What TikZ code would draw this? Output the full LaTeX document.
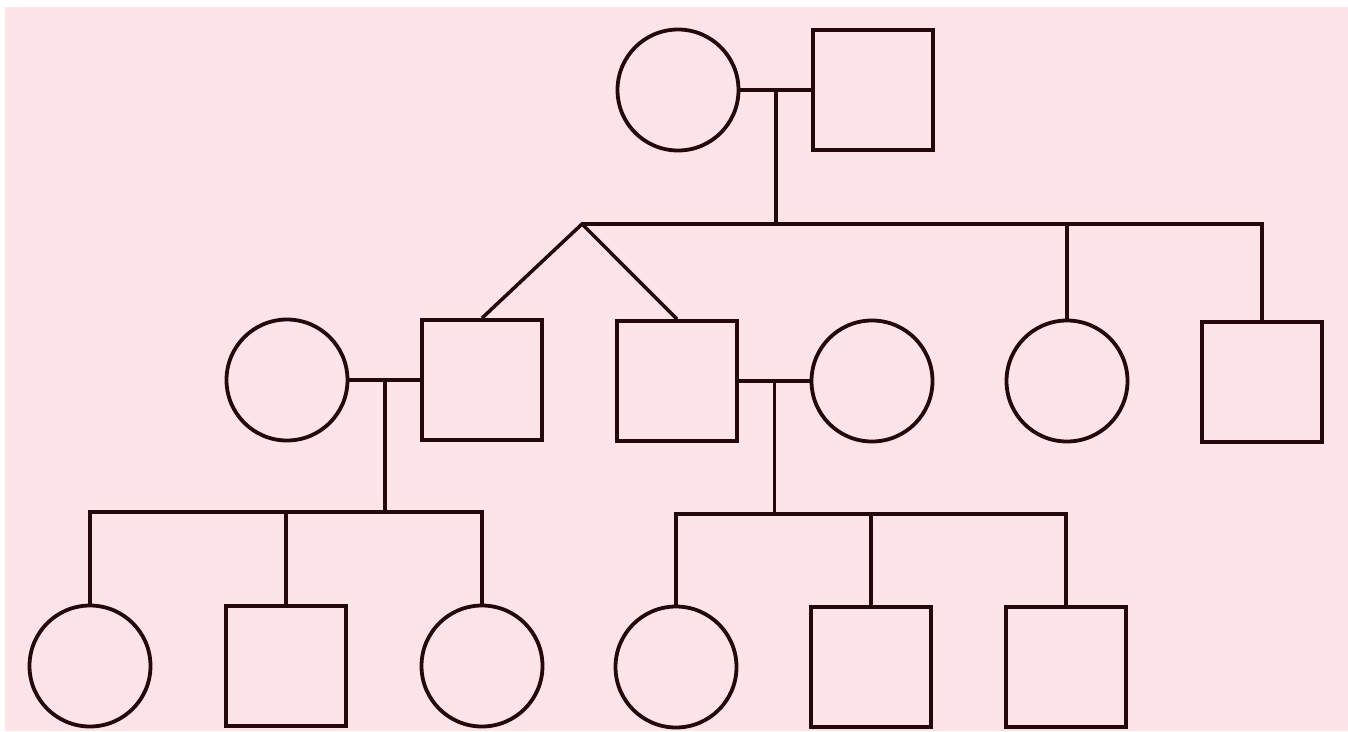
\documentclass[tikz,border=0pt]{standalone}
\usetikzlibrary{calc}
\definecolor{bgpink}{RGB}{253,228,232}
\definecolor{ink}{RGB}{36,8,12}

\begin{document}
\begin{tikzpicture}[x=1pt, y=-1pt, line width=3.6pt, line join=miter,
  female/.style={circle, draw=ink, line width=3.8pt, minimum size=121pt, inner sep=0pt},
  male/.style={rectangle, draw=ink, line width=3.8pt, minimum size=120pt, inner sep=0pt},
  link/.style={draw=ink, line width=3.5pt}]

  %% ════ 底色 ════
  \fill[white] (0,0) rectangle (1348,731);
  \fill[bgpink] (5,7) rectangle (1348,731);

  %% ════ 第一代 ════
  \node[female] (gma) at (678,90) {};
  \node[male]   (gpa) at (873,90) {};

  %% ════ 第二代 ════
  \node[female] (wifeA) at (287,380) {};
  \node[male]   (sonA)  at (482,380) {};
  \node[male]   (sonB)  at (677,381) {};
  \node[female] (wifeB) at (872,381) {};
  \node[female] (dau)   at (1067,381) {};
  \node[male]   (son)   at (1262,382) {};

  %% ════ 第三代 ════
  \node[female] (kidA1) at (90,666) {};
  \node[male]   (kidA2) at (286,666) {};
  \node[female] (kidA3) at (482,666) {};
  \node[female] (kidB1) at (676,667) {};
  \node[male]   (kidB2) at (871,667) {};
  \node[male]   (kidB3) at (1066,667) {};

  %% ════ 婚配线与同胞线 ════
  \draw[link] (gma.east) -- (gpa.west);
  \coordinate (mateO) at ($(gma.east)!0.5!(gpa.west)$);
  \coordinate (sibO) at (mateO |- 0,224);
  \coordinate (twin) at (582,224);
  \draw[link] (mateO) -- (sibO);
  \draw[link] (twin) -- (son.north |- twin) -- (son.north);
  \draw[link] (dau.north |- twin) -- (dau.north);
  \draw[link] (sonA.north) -- (twin) -- (sonB.north);

  \draw[link] (wifeA.east) -- (sonA.west);
  \coordinate (mateA) at ($(wifeA.east)!0.5!(sonA.west)$);
  \coordinate (sibA) at (mateA |- 0,512);
  \draw[link] (mateA) -- (sibA);
  \draw[link] (kidA1.north) |- (sibA) -| (kidA3.north);
  \draw[link] (kidA2.north) -- (kidA2.north |- sibA);

  \draw[link] (sonB.east) -- (wifeB.west);
  \coordinate (mateB) at ($(sonB.east)!0.5!(wifeB.west)$);
  \coordinate (sibB) at (mateB |- 0,514);
  \draw[link] (mateB) -- (sibB);
  \draw[link] (kidB1.north) |- (sibB) -| (kidB3.north);
  \draw[link] (kidB2.north) -- (kidB2.north |- sibB);

  % 钉死画布
  \useasboundingbox (0,0) rectangle (1348,731);
\end{tikzpicture}
\end{document}
